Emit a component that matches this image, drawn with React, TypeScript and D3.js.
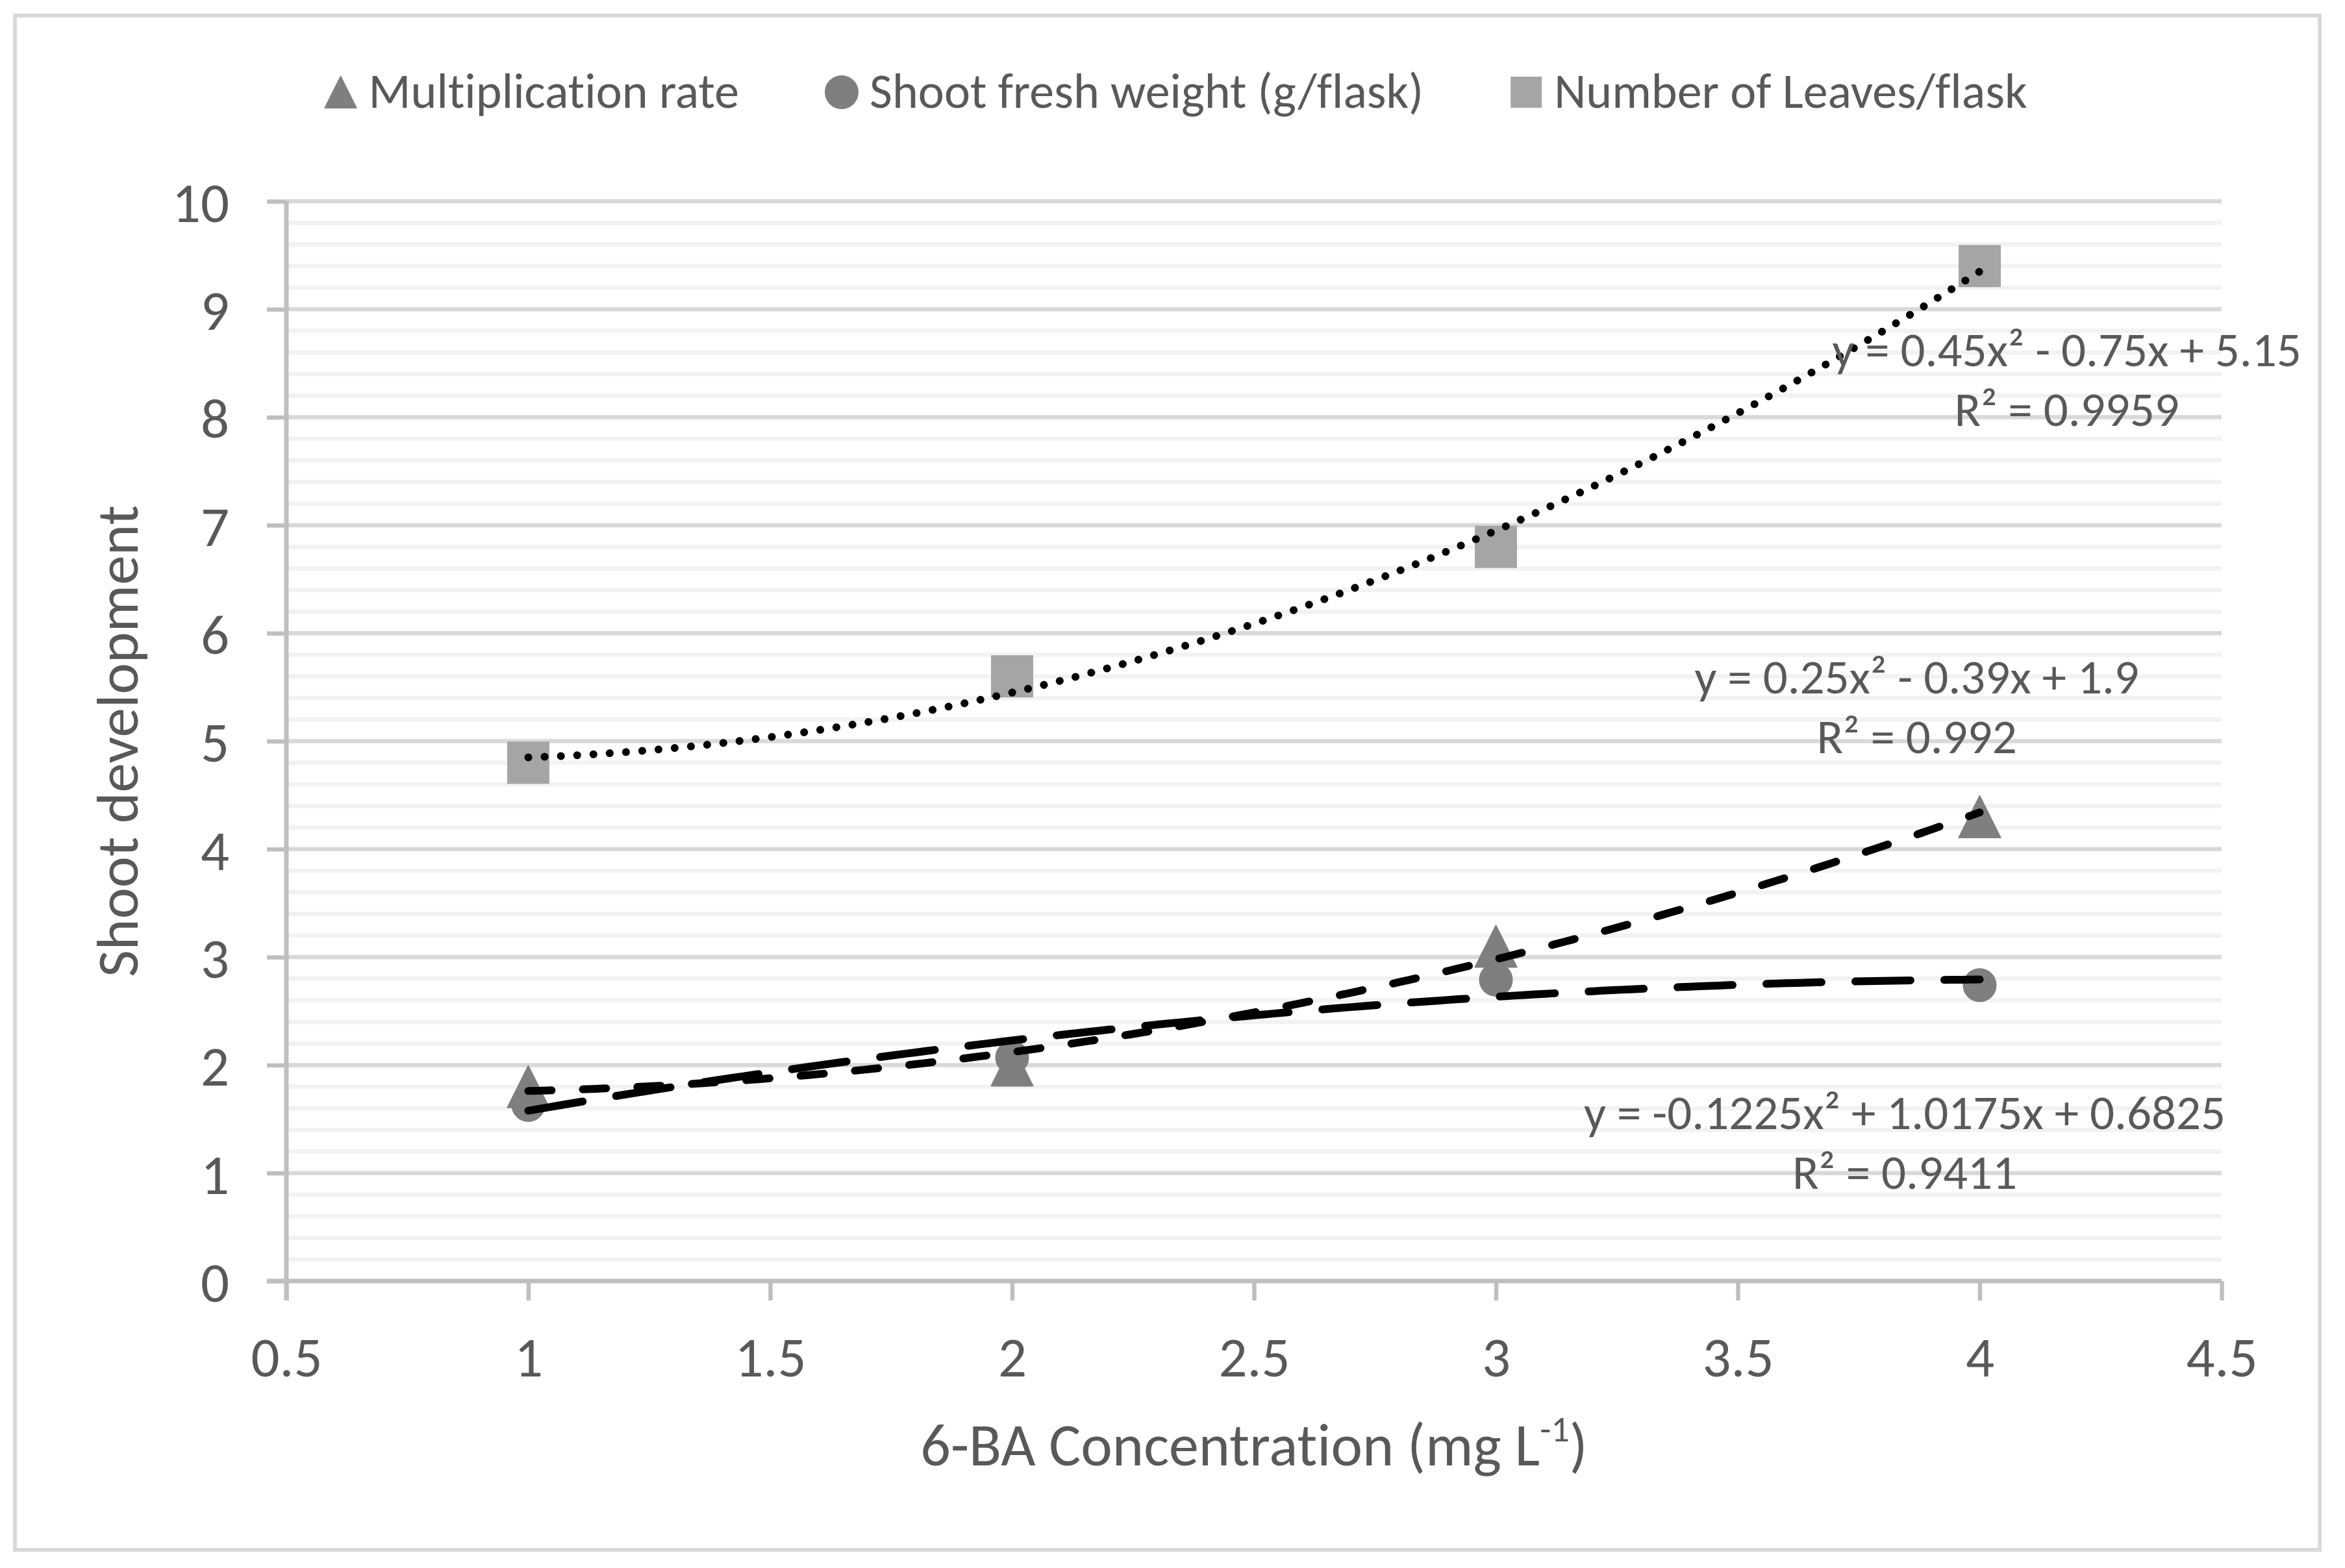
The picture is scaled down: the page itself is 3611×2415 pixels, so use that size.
import React, { useEffect, useRef } from 'react';
import * as d3 from 'd3';

// 6-BA concentration (mg/L) and the three measured responses
const concentrations = [1, 2, 3, 4];
const multiplicationRate = [1.8, 2.0, 3.1, 4.3];
const shootFreshWeight = [1.63, 2.07, 2.79, 2.74];
const leavesPerFlask = [4.8, 5.6, 6.8, 9.4];

const seriesNames = ['Multiplication rate', 'Shoot fresh weight (g/flask)', 'Number of Leaves/flask'];

const xTicks = [0.5, 1, 1.5, 2, 2.5, 3, 3.5, 4, 4.5];
const yTicks = [0, 1, 2, 3, 4, 5, 6, 7, 8, 9, 10];
const yMinorStep = 0.2;

const equationTexts = [
  ['y = 0.25x² - 0.39x + 1.9', 'R² = 0.992'],
  ['y = -0.1225x² + 1.0175x + 0.6825', 'R² = 0.9411'],
  ['y = 0.45x² - 0.75x + 5.15', 'R² = 0.9959'],
];

const FONT = 'Carlito, Calibri, Lato, sans-serif';
const TEXT = '#595959';

// least squares fit y = c0 + c1 x + c2 x^2
function quadFit(xs: number[], ys: number[]): number[] {
  const S = [0, 0, 0, 0, 0];
  const T = [0, 0, 0];
  xs.forEach((x, i) => {
    for (let k = 0; k < 5; k++) S[k] += Math.pow(x, k);
    for (let k = 0; k < 3; k++) T[k] += Math.pow(x, k) * ys[i];
  });
  const m = [
    [S[0], S[1], S[2], T[0]],
    [S[1], S[2], S[3], T[1]],
    [S[2], S[3], S[4], T[2]],
  ];
  for (let c = 0; c < 3; c++) {
    for (let r = c + 1; r < 3; r++) {
      const f = m[r][c] / m[c][c];
      for (let k = c; k < 4; k++) m[r][k] -= f * m[c][k];
    }
  }
  const out = [0, 0, 0];
  for (let r = 2; r >= 0; r--) {
    let s = m[r][3];
    for (let k = r + 1; k < 3; k++) s -= m[r][k] * out[k];
    out[r] = s / m[r][r];
  }
  return out;
}

// triangle centred on its bounding box (Excel style)
const triangleType = {
  draw(ctx: any, size: number) {
    const w = Math.sqrt(size);
    ctx.moveTo(0, -w / 2);
    ctx.lineTo(w / 2, w / 2);
    ctx.lineTo(-w / 2, w / 2);
    ctx.closePath();
  },
};

export default function App() {
  const ref = useRef<SVGSVGElement>(null);

  useEffect(() => {
    if (!ref.current) return;
    const svg = d3.select(ref.current);
    svg.selectAll('*').remove();

    const width = 3611;
    const height = 2415;
    const plot = { left: 441, right: 3421, top: 310, bottom: 1973 };

    const x = d3.scaleLinear().domain([0.5, 4.5]).range([plot.left, plot.right]);
    const y = d3.scaleLinear().domain([0, 10]).range([plot.bottom, plot.top]);

    svg.style('font-variant-ligatures', 'none');
    svg.append('rect').attr('width', width).attr('height', height).attr('fill', '#ffffff');
    svg.append('rect')
      .attr('x', 23).attr('y', 24).attr('width', 3549).attr('height', 2363)
      .attr('fill', '#ffffff').attr('stroke', '#d9d9d9').attr('stroke-width', 6);

    // minor gridlines
    const minor = d3.range(0, 10.0001, yMinorStep).filter((v) => Math.abs(v - Math.round(v)) > 1e-6);
    svg.append('g').selectAll('line').data(minor).enter().append('line')
      .attr('x1', plot.left).attr('x2', plot.right)
      .attr('y1', (d) => y(d)).attr('y2', (d) => y(d))
      .attr('stroke', '#f2f2f2').attr('stroke-width', 6.5);

    // major gridlines
    svg.append('g').selectAll('line').data(yTicks.filter((d) => d > 0)).enter().append('line')
      .attr('x1', plot.left).attr('x2', plot.right)
      .attr('y1', (d) => y(d)).attr('y2', (d) => y(d))
      .attr('stroke', '#d9d9d9').attr('stroke-width', 6.5);

    // y axis
    const yAxis = d3.axisLeft(y).tickValues(yTicks).tickSize(30).tickPadding(58).tickFormat(d3.format('d'));
    svg.append('g').attr('transform', `translate(${plot.left},0)`).call(yAxis)
      .call((g) => g.select('.domain').remove())
      .call((g) => g.selectAll('.tick line').attr('stroke', '#bfbfbf').attr('stroke-width', 6.5))
      .call((g) => g.selectAll('.tick text').attr('fill', TEXT).attr('font-size', 87).attr('font-family', FONT).attr('dy', '0.36em'));

    // x axis
    const xAxis = d3.axisBottom(x).tickValues(xTicks).tickSize(30).tickFormat((d) => String(d));
    svg.append('g').attr('transform', `translate(0,${plot.bottom})`).call(xAxis)
      .call((g) => g.select('.domain').remove())
      .call((g) => g.selectAll('.tick line').attr('stroke', '#bfbfbf').attr('stroke-width', 6.5))
      .call((g) => g.selectAll('.tick text').attr('fill', TEXT).attr('font-size', 87).attr('font-family', FONT).attr('y', 147).attr('dy', 0));

    // axis lines
    svg.append('line').attr('x1', plot.left).attr('x2', plot.left).attr('y1', plot.top).attr('y2', plot.bottom + 30)
      .attr('stroke', '#bfbfbf').attr('stroke-width', 7);
    svg.append('line').attr('x1', plot.left - 30).attr('x2', plot.right).attr('y1', plot.bottom).attr('y2', plot.bottom)
      .attr('stroke', '#bfbfbf').attr('stroke-width', 7);

    // axis titles
    svg.append('text')
      .attr('transform', `translate(212,${(plot.top + plot.bottom) / 2}) rotate(-90)`)
      .attr('text-anchor', 'middle').attr('fill', TEXT).attr('font-size', 91).attr('font-family', FONT)
      .text('Shoot development');
    const xt = svg.append('text')
      .attr('x', (plot.left + plot.right) / 2).attr('y', 2257)
      .attr('text-anchor', 'middle').attr('fill', TEXT).attr('font-size', 92).attr('font-family', FONT);
    xt.append('tspan').text('6-BA Concentration (mg L');
    xt.append('tspan').attr('font-size', 56).attr('dy', -37).text('-1');
    xt.append('tspan').attr('dy', 37).text(')');

    const series = [
      { name: seriesNames[0], values: multiplicationRate, symbol: triangleType, size: 64 * 64, color: '#7f7f7f', dash: '36 48', legendSize: 48 * 48 },
      { name: seriesNames[1], values: shootFreshWeight, symbol: d3.symbolCircle, size: Math.PI * 25 * 25, color: '#7f7f7f', dash: '85 52', legendSize: Math.PI * 25 * 25 },
      { name: seriesNames[2], values: leavesPerFlask, symbol: d3.symbolSquare, size: 63 * 63, color: '#a5a5a5', dash: '0.1 25', legendSize: 46 * 46 },
    ];

    // markers
    series.forEach((s) => {
      const sym = d3.symbol().type(s.symbol as any).size(s.size);
      svg.append('g').selectAll('path').data(concentrations).enter().append('path')
        .attr('transform', (d, i) => `translate(${x(d)},${y(s.values[i])})`)
        .attr('d', sym() as string)
        .attr('fill', s.color).attr('stroke', s.color).attr('stroke-width', 2).attr('stroke-linejoin', 'round');
    });

    // polynomial (order 2) trendlines
    const line = d3.line<[number, number]>().x((d) => x(d[0])).y((d) => y(d[1]));
    const [xMin, xMax] = d3.extent(concentrations) as [number, number];
    series.forEach((s) => {
      const c = quadFit(concentrations, s.values);
      const pts: [number, number][] = d3.range(0, 151).map((i) => {
        const xv = xMin + ((xMax - xMin) * i) / 150;
        return [xv, c[0] + c[1] * xv + c[2] * xv * xv];
      });
      svg.append('path').attr('d', line(pts) as string)
        .attr('fill', 'none').attr('stroke', '#000000').attr('stroke-width', 12)
        .attr('stroke-linecap', 'round').attr('stroke-dasharray', s.dash);
    });

    // trendline equations
    const eqAnchors = [
      { x: 3.87, y: 5.44 },
      { x: 3.845, y: 1.41 },
      { x: 4.18, y: 8.47 },
    ];
    equationTexts.forEach((lines, i) => {
      lines.forEach((t, j) => {
        svg.append('text')
          .attr('x', x(eqAnchors[i].x)).attr('y', y(eqAnchors[i].y) + j * 92)
          .attr('text-anchor', 'middle').attr('fill', TEXT).attr('font-size', 75).attr('font-family', FONT)
          .text(t);
      });
    });

    // legend
    const legend = svg.append('g');
    const items = series.map((s) => {
      const g = legend.append('g');
      g.append('path').attr('d', d3.symbol().type(s.symbol as any).size(s.legendSize)() as string)
        .attr('transform', 'translate(24,0)')
        .attr('fill', s.color).attr('stroke', s.color).attr('stroke-width', 2).attr('stroke-linejoin', 'round');
      const t = g.append('text').attr('x', 67).attr('y', 24)
        .attr('fill', TEXT).attr('font-size', 76).attr('font-family', FONT).text(s.name);
      const w = 67 + (t.node() as SVGTextElement).getComputedTextLength();
      return { g, w };
    });
    const gap = 134;
    const total = d3.sum(items, (d) => d.w) + gap * (items.length - 1);
    let cx = 1811 - total / 2;
    items.forEach((it) => {
      it.g.attr('transform', `translate(${cx},142)`);
      cx += it.w + gap;
    });
  }, []);

  return (
    <svg ref={ref} width={3611} height={2415} style={{ position: 'absolute', left: 0, top: 0, display: 'block' }} />
  );
}
